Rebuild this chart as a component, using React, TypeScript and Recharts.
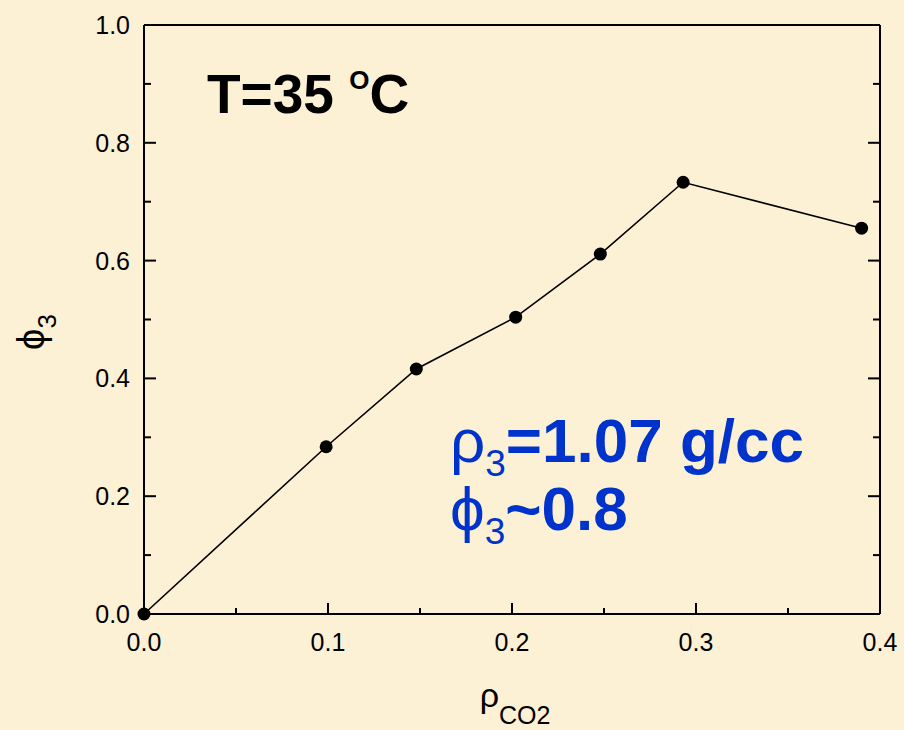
import React from "react";
import { LineChart, Line, XAxis, YAxis, Customized } from "recharts";

const densityCO2 = [0, 0.099, 0.148, 0.202, 0.248, 0.293, 0.39];
const phi3 = [0, 0.284, 0.416, 0.504, 0.611, 0.733, 0.655];

const xTicks = [0, 0.05, 0.1, 0.15, 0.2, 0.25, 0.3, 0.35, 0.4];
const yTicks = [0, 0.1, 0.2, 0.3, 0.4, 0.5, 0.6, 0.7, 0.8, 0.9, 1.0];

const data = densityCO2.map((x, i) => ({ x, y: phi3[i] }));

const FONT = "'Liberation Sans', Arial, Helvetica, 'DejaVu Sans', sans-serif";
const BLUE = "#0033cc";

const isMajorX = (v: number) => Math.abs(v * 10 - Math.round(v * 10)) < 1e-6;
const isMajorY = (v: number) => Math.abs(v * 5 - Math.round(v * 5)) < 1e-6;

const BottomTick = (props: any) => {
  const { x, y, payload } = props;
  const major = isMajorX(payload.value);
  return (
    <g>
      <line x1={x} x2={x} y1={y} y2={y - (major ? 11 : 6)} stroke="#000" strokeWidth={2} />
      {major && (
        <text x={x} y={y + 37} textAnchor="middle" fontFamily={FONT} fontSize={25} fill="#000">
          {payload.value.toFixed(1)}
        </text>
      )}
    </g>
  );
};

const LeftTick = (props: any) => {
  const { x, y, payload } = props;
  const major = isMajorY(payload.value);
  return (
    <g>
      <line x1={x} x2={x + (major ? 12 : 7)} y1={y} y2={y} stroke="#000" strokeWidth={2} />
      {major && (
        <text x={x - 14} y={y + 9} textAnchor="end" fontFamily={FONT} fontSize={25} fill="#000">
          {payload.value.toFixed(1)}
        </text>
      )}
    </g>
  );
};

const RightTick = (props: any) => {
  const { x, y, payload } = props;
  const major = isMajorY(payload.value);
  return <line x1={x} x2={x - (major ? 12 : 7)} y1={y} y2={y} stroke="#000" strokeWidth={2} />;
};

const Annotations = () => (
  <g fontFamily={FONT}>
    {/* axis titles */}
    <text x={44} y={332} transform="rotate(-90, 44, 332)" textAnchor="middle" fontSize={38} fill="#000">
      ϕ<tspan fontSize={26} dy={12}>3</tspan>
    </text>
    <text x={515} y={707} textAnchor="middle" fontSize={34} fill="#000">
      ρ<tspan fontSize={25} dy={17}>CO2</tspan>
    </text>
    {/* temperature */}
    <text x={207} y={113} fontSize={55} fontWeight="bold" fill="#000">
      T=35 <tspan fontSize={26} dy={-24}>O</tspan>
      <tspan dy={24}>C</tspan>
    </text>
    {/* density annotation */}
    <text x={450} y={462} fontSize={62} fill={BLUE}>
      ρ<tspan fontSize={37} dy={14}>3</tspan>
      <tspan dy={-14} fontWeight="bold">=1.07 g/cc</tspan>
    </text>
    <text x={450} y={530} fontSize={62} fill={BLUE}>
      ϕ<tspan fontSize={37} dy={14}>3</tspan>
      <tspan dy={-14} fontWeight="bold">~0.8</tspan>
    </text>
  </g>
);

export default function App() {
  return (
    <div style={{ position: "absolute", left: 0, top: 0, width: 904, height: 730, background: "#fcf0d5" }}>
      <LineChart width={904} height={730} data={data} margin={{ top: 24, right: 23, left: 0, bottom: 0 }}>
        <XAxis
          dataKey="x"
          type="number"
          domain={[0, 0.4]}
          ticks={xTicks}
          height={116}
          stroke="#000"
          strokeWidth={2}
          tickLine={false}
          tickSize={0}
          tickMargin={0}
          tick={<BottomTick />}
          interval={0}
        />
        <XAxis
          xAxisId="top"
          orientation="top"
          dataKey="x"
          type="number"
          domain={[0, 0.4]}
          height={1}
          stroke="#000"
          strokeWidth={2}
          tickLine={false}
          tick={false}
        />
        <YAxis
          type="number"
          domain={[0, 1]}
          ticks={yTicks}
          width={144}
          stroke="#000"
          strokeWidth={2}
          tickLine={false}
          tickSize={0}
          tickMargin={0}
          tick={<LeftTick />}
          interval={0}
        />
        <YAxis
          yAxisId="right"
          orientation="right"
          type="number"
          domain={[0, 1]}
          ticks={yTicks}
          width={1}
          stroke="#000"
          strokeWidth={2}
          tickLine={false}
          tickSize={0}
          tickMargin={0}
          tick={<RightTick />}
          interval={0}
        />
        {/* invisible copy bound to the top/right frame axes so they get ticks */}
        <Line
          xAxisId="top"
          yAxisId="right"
          dataKey="y"
          type="linear"
          stroke="none"
          dot={false}
          activeDot={false}
          isAnimationActive={false}
        />
        <Line
          dataKey="y"
          type="linear"
          stroke="#000"
          strokeWidth={1.6}
          dot={{ r: 6.5, fill: "#000", stroke: "#000", strokeWidth: 0 }}
          isAnimationActive={false}
        />
        <Customized component={Annotations} />
      </LineChart>
    </div>
  );
}
